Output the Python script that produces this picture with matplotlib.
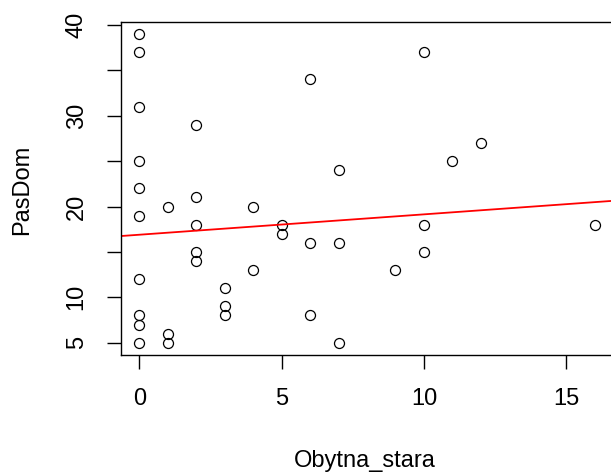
import numpy as np
import matplotlib
matplotlib.use("Agg")
import matplotlib.pyplot as plt

plt.rcParams['font.family'] = ['Liberation Sans', 'DejaVu Sans']

# Obytna_stara vs PasDom
obytna_stara = [0, 0, 6, 0, 2, 0, 7, 0, 1, 2, 4, 0, 2, 5, 5, 6, 7, 2, 2, 0,
                4, 3, 3, 3, 6, 0, 0, 0, 1, 1, 7, 10, 12, 11, 10, 10, 9, 16]
pas_dom = [39, 37, 34, 31, 29, 25, 24, 22, 20, 21, 20, 19, 18, 18, 17, 16, 16, 15, 14, 12,
           13, 11, 9, 8, 8, 8, 7, 5, 6, 5, 5, 37, 27, 25, 18, 15, 13, 18]

# regression line (abline) coefficients
line_intercept = 16.89
line_slope = 0.2245

x_ticks = [0, 5, 10, 15]
y_ticks = [5, 10, 15, 20, 25, 30, 35, 40]
y_labels = ['5', '10', '', '20', '', '30', '', '40']

W, H = 611, 472
fig = plt.figure(figsize=(W / 100, H / 100), dpi=100)
left, right, top, bottom = 121, 613, 21.7, 355
ax = fig.add_axes([left / W, 1 - bottom / H, (right - left) / W, (bottom - top) / H])

x = np.array(obytna_stara, dtype=float)
y = np.array(pas_dom, dtype=float)

ax.plot(x, y, linestyle='none', marker='o', markersize=7.2,
        markerfacecolor='none', markeredgecolor='black', markeredgewidth=0.9)

ax.axline((0, line_intercept), slope=line_slope, color='red', linewidth=1.3)

# R style 4% padding
xpad = (x.max() - x.min()) * 0.04
ypad = (y.max() - y.min()) * 0.04
ax.set_xlim(x.min() - xpad, x.max() + xpad)
ax.set_ylim(y.min() - ypad, y.max() + ypad)

ax.set_xticks(x_ticks)
ax.set_xticklabels([str(t) for t in x_ticks])
ax.set_yticks(y_ticks)
ax.set_yticklabels(y_labels, rotation=90, va='center')
ax.tick_params(axis='both', length=10, width=1, labelsize=17, pad=14, colors='black')
for s in ax.spines.values():
    s.set_linewidth(1)

ax.set_xlabel('Obytna_stara', fontsize=17)
ax.set_ylabel('PasDom', fontsize=17)
ax.xaxis.set_label_coords((365 - left) / (right - left), (bottom - 450) / (bottom - top))
ax.yaxis.set_label_coords((33 - left) / (right - left), (bottom - 190) / (bottom - top))

fig.savefig('out.png', dpi=100)
